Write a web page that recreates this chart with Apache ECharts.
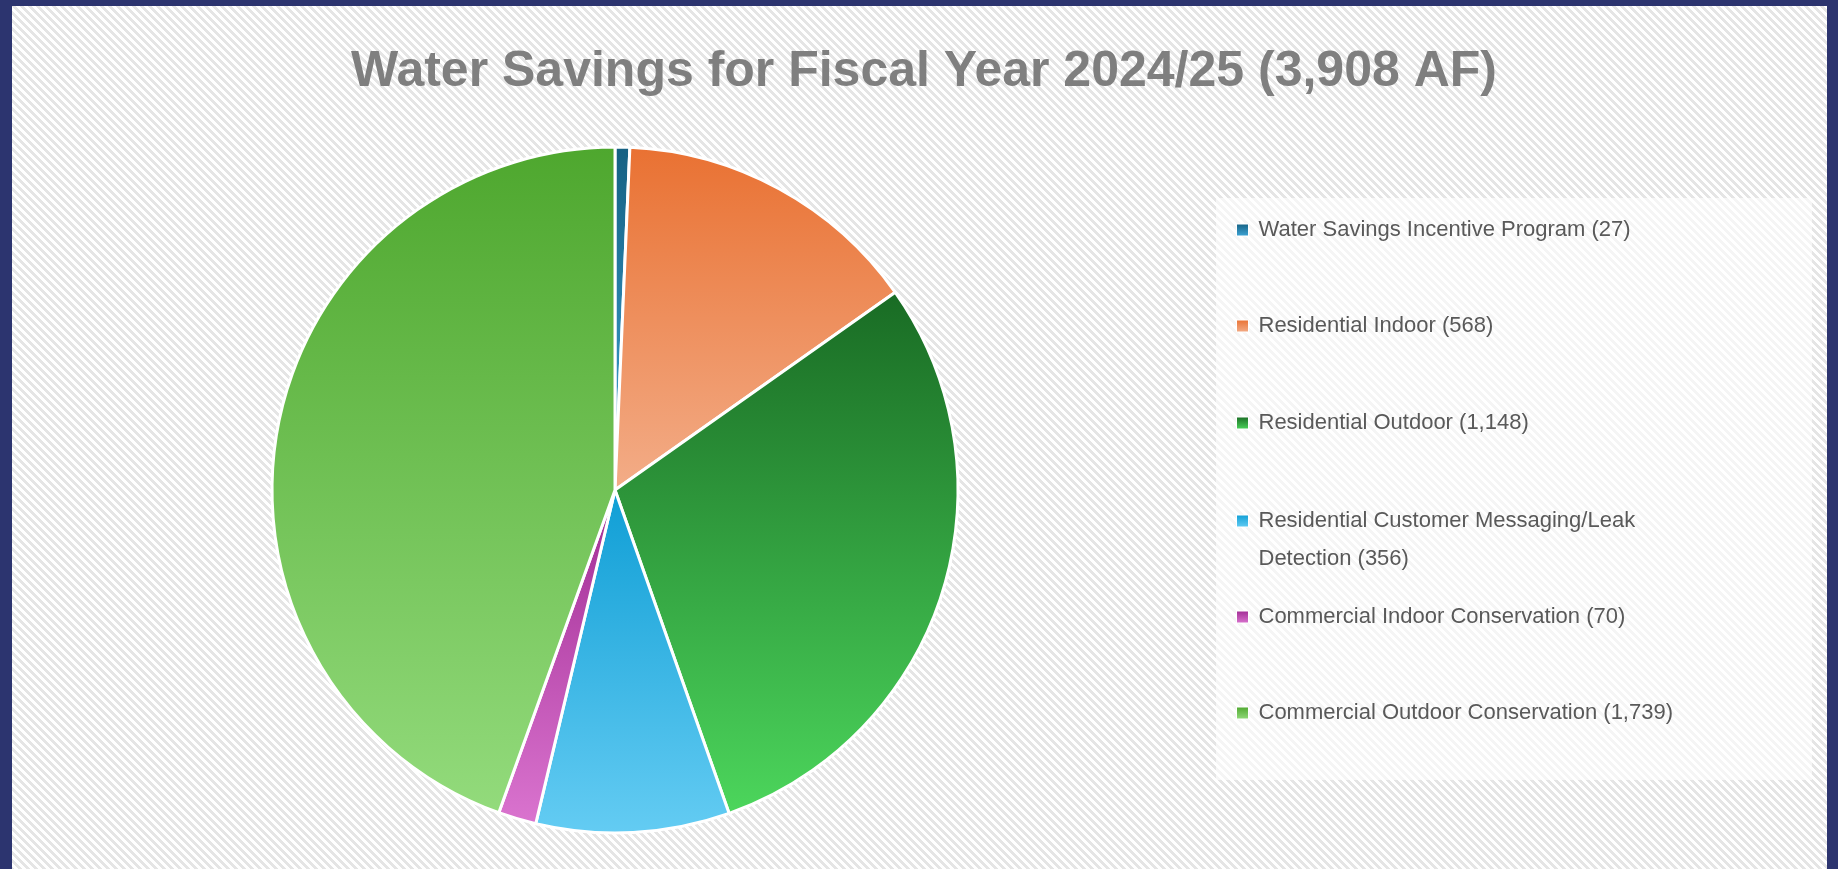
<!DOCTYPE html>
<html>
<head>
<meta charset="utf-8">
<script src="https://cdn.jsdelivr.net/npm/echarts@6/dist/echarts.min.js"></script>
<style>
  html, body { margin: 0; padding: 0; width: 1838px; height: 869px; overflow: hidden; background: #2c346f; }
  #bg { position: absolute; left: 12px; top: 6px; width: 1815px; height: 863px; background-color: #f2f2f2; }
  #chart { position: absolute; left: 0; top: 0; width: 1838px; height: 869px; }
</style>
</head>
<body>
<div id="bg"></div>
<div id="chart"></div>
<script>
// ---- data ----
const categories = [
  'Water Savings Incentive Program',
  'Residential Indoor',
  'Residential Outdoor',
  'Residential Customer Messaging/Leak Detection',
  'Commercial Indoor Conservation',
  'Commercial Outdoor Conservation'
];
const values = [27, 568, 1148, 356, 70, 1739];
const titleText = 'Water Savings for Fiscal Year 2024/25 (3,908 AF)';

// ---- styles ----
const topColors    = ['#156082', '#E97132', '#196B24', '#0F9ED5', '#A02B93', '#4EA72E'];
const bottomColors = ['#3fa6d8', '#F3AD88', '#4CD65C', '#64CCF3', '#DA74CF', '#93DB7C'];
const legendCenters = [230, 326, 423, 521, 617, 713];
const lineH = 38;

// background: pixel-aligned downward diagonal pattern
(function () {
  const t = document.createElement('canvas');
  t.width = 8; t.height = 8;
  const g = t.getContext('2d');
  const img = g.createImageData(8, 8);
  for (let y = 0; y < 8; y++) {
    for (let x = 0; x < 8; x++) {
      const on = (((x - y) % 8) + 8) % 8 < 4;
      const v = on ? 229 : 255;
      const k = (y * 8 + x) * 4;
      img.data[k] = v; img.data[k + 1] = v; img.data[k + 2] = v; img.data[k + 3] = 255;
    }
  }
  g.putImageData(img, 0, 0);
  document.getElementById('bg').style.backgroundImage = 'url(' + t.toDataURL() + ')';
})();

const fmt = v => v.toLocaleString('en-US');
const chart = echarts.init(document.getElementById('chart'), null, { renderer: 'canvas' });

const pieData = categories.map((c, i) => ({
  name: c,
  value: values[i],
  itemStyle: {
    color: new echarts.graphic.LinearGradient(0, 0, 0, 1, [
      { offset: 0, color: topColors[i] },
      { offset: 1, color: bottomColors[i] }
    ])
  }
}));

const legends = categories.map((c, i) => {
  const wrapped = i === 3;
  return {
    data: [c],
    orient: 'vertical',
    left: 1236,
    top: wrapped ? legendCenters[i] - lineH * 1.5 : legendCenters[i] - lineH / 2,
    padding: 0,
    itemWidth: 12,
    itemHeight: 12,
    itemGap: 10,
    icon: 'rect',
    selectedMode: false,
    itemStyle: { borderColor: '#ffffff', borderWidth: 1 },
    formatter: name => (wrapped ? '\n' : '') + name + ' (' + fmt(values[categories.indexOf(name)]) + ')',
    textStyle: {
      fontFamily: 'Liberation Sans, Arial, sans-serif',
      fontSize: 22,
      color: '#595959',
      lineHeight: lineH,
      width: 440,
      overflow: 'break',
      padding: [0, 0, 0, 5]
    }
  };
});

chart.setOption({
  backgroundColor: 'transparent',
  animation: false,
  title: {
    text: titleText,
    left: 919,
    textAlign: 'center',
    top: 42,
    textStyle: {
      fontFamily: 'Liberation Sans, Arial, sans-serif',
      fontWeight: 'bold',
      fontSize: 50,
      color: '#7f7f7f'
    }
  },
  graphic: [{
    type: 'rect',
    silent: true,
    z: -1,
    shape: { x: 1216, y: 198, width: 596, height: 582 },
    style: { fill: 'rgba(255,255,255,0.6)' }
  }],
  legend: legends,
  series: [{
    type: 'pie',
    center: [615, 490],
    radius: 343,
    startAngle: 90,
    clockwise: true,
    avoidLabelOverlap: false,
    label: { show: false },
    labelLine: { show: false },
    emphasis: { disabled: true },
    itemStyle: { borderColor: '#ffffff', borderWidth: 3 },
    data: pieData
  }]
});
</script>
</body>
</html>
